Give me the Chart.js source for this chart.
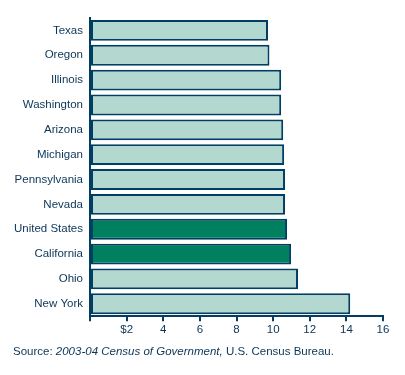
<!DOCTYPE html>
<html>
<head>
<meta charset="utf-8">
<script src="https://cdn.jsdelivr.net/npm/chart.js@4/dist/chart.umd.min.js"></script>
<style>
  body { margin: 0; background: #fff; }
  #wrap { position: relative; width: 405px; height: 375px; }
  #source {
    position: absolute; left: 13px; top: 345px;
    font: 11.5px "Liberation Sans", Arial, sans-serif; color: #0b3558;
    white-space: nowrap;
  }
</style>
</head>
<body>
<div id="wrap">
  <canvas id="myChart" width="405" height="375"></canvas>
  <div id="source">Source: <i>2003-04 Census of Government,</i> U.S. Census Bureau.</div>
</div>
<script>
var states = ['Texas', 'Oregon', 'Illinois', 'Washington', 'Arizona', 'Michigan',
              'Pennsylvania', 'Nevada', 'United States', 'California', 'Ohio', 'New York'];
var amounts = [9.72, 9.8, 10.44, 10.44, 10.55, 10.6, 10.65, 10.65, 10.76, 10.98, 11.36, 14.21];
var highlighted = ['United States', 'California'];
var xTicks = [0, 2, 4, 6, 8, 10, 12, 14, 16];

var navy = '#003f63';
var textColor = '#0b3558';

var colors = states.map(function(s) {
  return highlighted.indexOf(s) >= 0 ? '#00805f' : '#b2d8d0';
});

const ctx = document.getElementById('myChart').getContext('2d');
new Chart(ctx, {
  type: 'bar',
  data: {
    labels: states,
    datasets: [{
      data: amounts,
      backgroundColor: colors,
      borderColor: navy,
      borderWidth: 2,
      borderSkipped: false,
      barPercentage: 0.84,
      categoryPercentage: 1
    }]
  },
  options: {
    indexAxis: 'y',
    responsive: false,
    animation: false,
    layout: { padding: { top: 18, right: 22, bottom: 36, left: 0 } },
    plugins: { legend: { display: false }, tooltip: { enabled: false } },
    scales: {
      y: {
        grid: { display: false, drawTicks: false },
        border: { color: navy, width: 2 },
        ticks: {
          color: textColor,
          padding: 7,
          font: { family: '"Liberation Sans", Arial, sans-serif', size: 11.5 }
        },
        afterFit: function(scale) { scale.width = 90; }
      },
      x: {
        min: 0,
        max: 16,
        afterBuildTicks: function(scale) {
          scale.ticks = xTicks.map(function(v) { return { value: v }; });
        },
        grid: { drawOnChartArea: false, drawTicks: true, tickLength: 5, color: navy, lineWidth: 2 },
        border: { color: navy, width: 2 },
        ticks: {
          color: textColor,
          padding: 2,
          maxRotation: 0,
          font: { family: '"Liberation Sans", Arial, sans-serif', size: 11.5 },
          callback: function(v) { return v === 0 ? '' : (v === 2 ? '$2' : v); }
        }
      }
    }
  }
});
</script>
</body>
</html>
